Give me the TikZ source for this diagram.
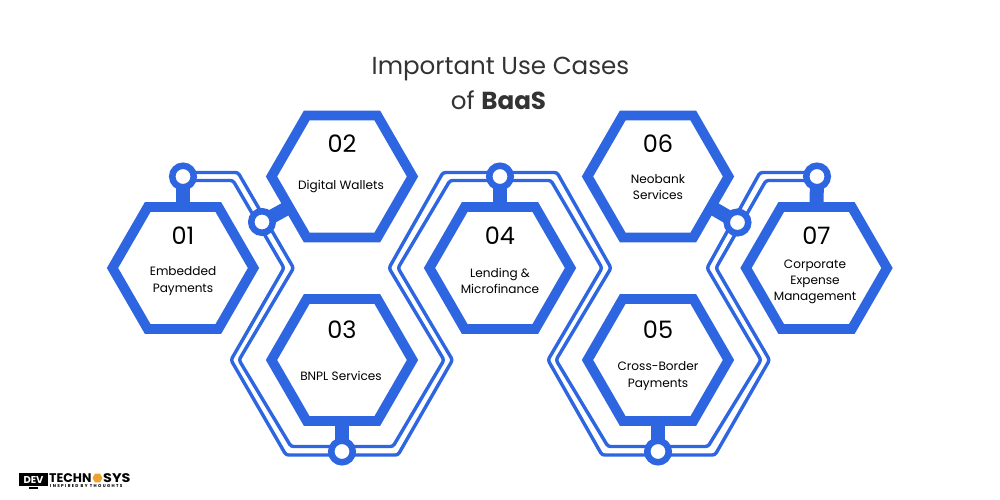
\documentclass[tikz,border=0pt]{standalone}
\usepackage{fontspec}
\setmainfont{Poppins}
\usetikzlibrary{shapes.geometric,backgrounds}
\definecolor{baasblue}{HTML}{2E65E0}
\definecolor{titlegray}{HTML}{333333}
\definecolor{logoorange}{HTML}{F0A030}
\tikzset{
  x=1pt,y=-1pt,
  hexa/.style={regular polygon,regular polygon sides=6,minimum size=141pt,inner sep=0pt,outer sep=0pt,draw=baasblue,line width=9.8pt,fill=white,miter limit=10},
  ringnode/.style={circle,draw=baasblue,fill=white,line width=6.5pt,minimum size=21.5pt,inner sep=0pt,outer sep=0pt},
  stem/.style={draw=baasblue,line width=14pt},
  strip/.style={draw=baasblue,line width=3.4pt,rounded corners=2.5pt},
  numlabel/.style={font=\fontsize{24}{26}\selectfont,text=black,inner sep=0pt},
  caselabel/.style={font=\fontsize{12.1}{16.3}\selectfont,text=black,align=center,inner sep=0pt},
  titlelabel/.style={font=\fontsize{24.6}{30}\selectfont,text=titlegray,inner sep=0pt,anchor=base}
}
\begin{document}
\begin{tikzpicture}
\useasboundingbox (0,0) rectangle (1000,500);
\begin{scope}[on background layer]
\fill[white] (0,0) rectangle (1000,500);
\end{scope}
% hexagons
\node[hexa] (h1) at (183,268) {};
\node[hexa] (h2) at (342,176.5) {};
\node[hexa] (h3) at (342,360) {};
\node[hexa] (h4) at (500,268) {};
\node[hexa] (h5) at (658,360) {};
\node[hexa] (h6) at (658,176.5) {};
\node[hexa] (h7) at (816.5,268) {};
% rings
\node[ringnode] (r1) at (183,176.5) {};
\node[ringnode] (r2) at (262,222) {};
\node[ringnode] (r3) at (342,451.5) {};
\node[ringnode] (r4) at (500,176.5) {};
\node[ringnode] (r5) at (658,451.5) {};
\node[ringnode] (r6) at (737.5,222.5) {};
\node[ringnode] (r7) at (817,176.5) {};
\begin{scope}[on background layer]
\draw[stem] (r1.center) -- (h1.north);
\draw[stem] (r2.center) -- (h2.210);
\draw[stem] (r3.center) -- (h3.south);
\draw[stem] (r4.center) -- (h4.north);
\draw[stem] (r5.center) -- (h5.south);
\draw[stem] (r6.center) -- (h6.330);
\draw[stem] (r7.center) -- (h7.north);
% outer strip line
\draw[strip] ([yshift=4pt]r1.center) -- (238,172.5) -- (293.5,268) -- (239,360) -- (291,446.5) -- ([yshift=5pt]r3.center);
\draw[strip] ([yshift=5pt]r3.center) -- (393,446.5) -- (444,360) -- (389,268) -- (443,172.5) -- ([yshift=4pt]r4.center);
\draw[strip] ([yshift=4pt]r4.center) -- (557,172.5) -- (611,268) -- (556,360) -- (608,446.5) -- ([yshift=5pt]r5.center);
\draw[strip] ([yshift=5pt]r5.center) -- (708,446.5) -- (761,360) -- (707,268) -- (760,172.5) -- ([yshift=4pt]r7.center);
% inner strip line
\draw[strip] ([yshift=-4pt]r1.center) -- (233,180.5) -- (284,268) -- (231,360) -- (286,455) -- ([yshift=-3.5pt]r3.center);
\draw[strip] ([yshift=-3.5pt]r3.center) -- (398,455) -- (452.5,360) -- (398,268) -- (450,180.5) -- ([yshift=-4pt]r4.center);
\draw[strip] ([yshift=-4pt]r4.center) -- (551,180.5) -- (602,268) -- (548,360) -- (602,455) -- ([yshift=-3.5pt]r5.center);
\draw[strip] ([yshift=-3.5pt]r5.center) -- (715,455) -- (769.5,360) -- (716,268) -- (766,180.5) -- ([yshift=-4pt]r7.center);
\end{scope}
% title
\node[titlelabel] (t1) at (500.5,75) {Important Use Cases};
\node[titlelabel] (t2) at (498.5,110) {of \textbf{BaaS}};
% numbers
\node[numlabel] (n1) at (183,236) {01};
\node[numlabel] (n2) at (342,144) {02};
\node[numlabel] (n3) at (342,330) {03};
\node[numlabel] (n4) at (500,236) {04};
\node[numlabel] (n5) at (658,330) {05};
\node[numlabel] (n6) at (658,144) {06};
\node[numlabel] (n7) at (816.5,236) {07};
% labels
\node[caselabel] (l1) at (183,281) {Embedded\\Payments};
\node[caselabel] (l2) at (341,186.5) {Digital Wallets};
\node[caselabel] (l3) at (341,375.5) {BNPL Services};
\node[caselabel] (l4) at (500,281) {Lending \&\\Microfinance};
\node[caselabel] (l5) at (658,376) {Cross-Border\\Payments};
\node[caselabel] (l6) at (658,187) {Neobank\\Services};
\node[caselabel] (l7) at (815,282) {Corporate\\Expense\\Management};
% logo
\fill[black] (19,473) rectangle (48,486);
\fill[black] (29,487) rectangle (38,489);
\node[inner sep=0pt,text=white,font=\fontsize{10}{10}\selectfont\bfseries] (ld) at (33.5,479.5) {DEV};
\node[inner sep=0pt,text=black,font=\fontsize{12.5}{13}\selectfont\bfseries,anchor=west] (lt) at (49,478) {TECHN};
\node[regular polygon,regular polygon sides=6,fill=logoorange,minimum size=10pt,inner sep=0pt] (lo) at (97.5,478) {};
\node[inner sep=0pt,text=black,font=\fontsize{12.5}{13}\selectfont\bfseries,anchor=west,xscale=1.15] (ls) at (103,478) {SYS};
\node[inner sep=0pt,text=black,font=\fontsize{4.2}{5}\selectfont\bfseries\addfontfeature{LetterSpace=32},anchor=west] (lg) at (50,486.5) {INSPIRED BY THOUGHTS};
\end{tikzpicture}
\end{document}
